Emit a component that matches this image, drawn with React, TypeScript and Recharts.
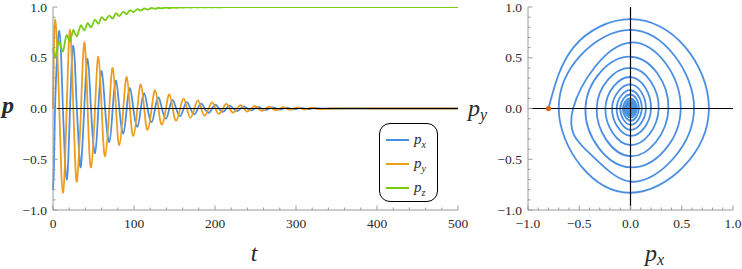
import { LineChart, Line, XAxis, YAxis, ReferenceLine, Legend } from 'recharts';

// samples: per cycle -> px min, py max, px max, py min
// (the two outer loops also have their four diagonal points)
const sampleT = [
  0, 1.2, 2.5, 5.1, 7.8, 10.0, 12.2, 14.6,
  16.9, 19.0, 21.0, 23.0, 25.1, 27.2, 29.4, 32.0,
  34.6, 38.6, 42.8, 46.9,
  51.9, 56.0, 60.1, 64.3,
  69.5, 73.7, 77.8, 81.9,
  86.8, 91.0, 95.0, 99.2,
  104.2, 108.4, 112.6, 116.8,
  121.8, 126.0, 130.2, 134.4,
  139.4, 143.6, 147.8, 152.0,
  157.0, 161.2, 165.4, 169.6,
  174.6, 178.8, 183.0, 187.2,
  192.2, 196.4, 200.6, 204.8,
  209.8, 214.0, 218.2, 222.4,
  227.4, 231.6, 235.8, 240.0,
  245.0, 249.2, 253.4, 257.6,
  262.6, 266.8, 271.0, 275.2,
  280.2, 284.4, 288.6, 292.8,
  297.8, 302.0, 306.2, 310.4,
  315.4, 319.6, 323.8, 328.0,
];
const pxS = [
  -0.8, -0.55, 0, 0.53, 0.765, 0.52, 0, -0.48,
  -0.7, -0.48, 0, 0.43, 0.62, 0.42, 0, -0.39,
  -0.56, 0, 0.49, 0,
  -0.44, 0, 0.37, 0,
  -0.33, 0, 0.275, 0,
  -0.245, 0, 0.2, 0,
  -0.18, 0, 0.15, 0,
  -0.135, 0, 0.11, 0,
  -0.1, 0, 0.083, 0,
  -0.075, 0, 0.063, 0,
  -0.057, 0, 0.048, 0,
  -0.043, 0, 0.037, 0,
  -0.033, 0, 0.028, 0,
  -0.025, 0, 0.021, 0,
  -0.019, 0, 0.016, 0,
  -0.014, 0, 0.012, 0,
  -0.011, 0, 0.009, 0,
  -0.008, 0, 0.007, 0,
  -0.006, 0, 0.005, 0,
];
const pyS = [
  0, 0.61, 0.88, 0.61, 0, -0.57, -0.83, -0.57,
  0, 0.53, 0.775, 0.52, 0, -0.49, -0.72, -0.45,
  0, 0.65, 0, -0.58,
  0, 0.51, 0, -0.47,
  0, 0.4, 0, -0.36,
  0, 0.31, 0, -0.27,
  0, 0.237, 0, -0.21,
  0, 0.18, 0, -0.16,
  0, 0.138, 0, -0.12,
  0, 0.1, 0, -0.09,
  0, 0.08, 0, -0.07,
  0, 0.06, 0, -0.053,
  0, 0.045, 0, -0.04,
  0, 0.034, 0, -0.03,
  0, 0.026, 0, -0.023,
  0, 0.019, 0, -0.017,
  0, 0.014, 0, -0.013,
  0, 0.011, 0, -0.01,
  0, 0.008, 0, -0.007,
];
const pzS = [
  0.59, 0.53, 0.5, 0.6, 0.66, 0.6, 0.56, 0.65,
  0.725, 0.69, 0.66, 0.72, 0.775, 0.74, 0.71, 0.77,
  0.82, 0.77, 0.84, 0.8,
  0.875, 0.835, 0.9, 0.87,
  0.915, 0.885, 0.94, 0.91,
  0.955, 0.93, 0.97, 0.95,
  0.98, 0.965, 0.985, 0.975,
  0.99, 0.982, 0.992, 0.987,
  0.994, 0.99, 0.995, 0.992,
  0.996, 0.994, 0.997, 0.995,
  0.998, 0.997, 0.998, 0.997,
  0.998, 0.997, 0.998, 0.997,
  0.998, 0.998, 0.998, 0.998,
  0.998, 0.998, 0.998, 0.998,
  0.998, 0.998, 0.998, 0.998,
  0.999, 0.999, 0.999, 0.999,
  0.999, 0.999, 0.999, 0.999,
  0.999, 0.999, 0.999, 0.999,
  0.999, 0.999, 0.999, 0.999,
];
const tailT = [345, 400, 500];
const tailPx = [0, 0, 0];
const tailPy = [0, 0, 0];
const tailPz = [0.999, 0.999, 0.999];

const tTicks = [0, 20, 40, 60, 80, 100, 120, 140, 160, 180, 200, 220, 240, 260, 280, 300, 320, 340, 360, 380, 400, 420, 440, 460, 480, 500];
const pTicks = [-1, -0.9, -0.8, -0.7, -0.6, -0.5, -0.4, -0.3, -0.2, -0.1, 0, 0.1, 0.2, 0.3, 0.4, 0.5, 0.6, 0.7, 0.8, 0.9, 1];

const rows = [
  ...sampleT.map((t, i) => ({ t, px: pxS[i], py: pyS[i], pz: pzS[i] })),
  ...tailT.map((t, i) => ({ t, px: tailPx[i], py: tailPy[i], pz: tailPz[i] })),
];

const BLUE = '#4a8fe2';
const ORANGE = '#ef9c1c';
const GREEN = '#78cc14';
const FRAME = '#9a9a9a';
const TXT = '#2a2a2a';
const SERIF = 'Liberation Serif, Times New Roman, DejaVu Serif, serif';

const isMajor = (v: number, step: number) => Math.abs(v / step - Math.round(v / step)) < 1e-6;
const fmtT = (v: number) => String(v);
const fmtP = (v: number) => v.toFixed(1).replace('-', '\u2212');

function tickFactory(side: 'bottom' | 'top' | 'left' | 'right', step: number, fmt?: (v: number) => string) {
  return (props: any) => {
    const { x, y, payload } = props;
    const v = payload.value;
    const major = isMajor(v, step);
    const len = major ? 4.5 : 2.5;
    let x2 = x;
    let y2 = y;
    if (side === 'bottom') y2 = y - len;
    if (side === 'top') y2 = y + len;
    if (side === 'left') x2 = x + len;
    if (side === 'right') x2 = x - len;
    let label = null;
    if (fmt && major) {
      label =
        side === 'bottom' ? (
          <text x={x} y={y + 17.5} textAnchor="middle" fontSize={13.5} style={{ fontFamily: SERIF }} fill={TXT}>
            {fmt(v)}
          </text>
        ) : (
          <text x={x - 6} y={y + 4.5} textAnchor="end" fontSize={13.5} style={{ fontFamily: SERIF }} fill={TXT}>
            {fmt(v)}
          </text>
        );
    }
    return (
      <g>
        <line x1={x} y1={y} x2={x2} y2={y2} stroke={FRAME} strokeWidth={1} />
        {label}
      </g>
    );
  };
}

function LegendBox({ payload }: any) {
  return (
    <div
      style={{
        width: 59,
        height: 79,
        boxSizing: 'border-box',
        border: '1.5px solid #000',
        borderRadius: 11,
        background: '#fff',
        paddingTop: 4,
      }}
    >
      {(payload || []).map((e: any) => (
        <div key={e.value} style={{ display: 'flex', alignItems: 'center', height: 24 }}>
          <svg width={34} height={6} style={{ display: 'block' }}>
            <line x1={6} y1={3} x2={29} y2={3} stroke={e.color} strokeWidth={2} />
          </svg>
          <span style={{ fontFamily: SERIF, fontStyle: 'italic', fontSize: 15, color: TXT }}>
            p<sub style={{ fontSize: 10 }}>{String(e.value).slice(1)}</sub>
          </span>
        </div>
      ))}
    </div>
  );
}

export default function App() {
  const startDot = (props: any) =>
    props.index === 0 ? <circle key="start" cx={props.cx} cy={props.cy} r={2.6} fill="#d9650f" /> : <g key={props.index} />;

  return (
    <div style={{ position: 'absolute', left: 0, top: 0, width: 742, height: 269, background: '#fff' }}>
      <div style={{ position: 'absolute', left: 0, top: 0 }}>
        <LineChart width={470} height={269} data={rows} margin={{ top: 7, right: 12, bottom: 0, left: 0 }}>
          <XAxis
            type="number"
            dataKey="t"
            domain={[0, 500]}
            ticks={tTicks}
            interval={0}
            height={59}
            tickSize={0}
            tickMargin={0}
            tickLine={false}
            axisLine={{ stroke: FRAME }}
            tick={tickFactory('bottom', 100, fmtT)}
          />
          <XAxis
            xAxisId="top"
            orientation="top"
            type="number"
            domain={[0, 500]}
            ticks={tTicks}
            interval={0}
            height={0}
            tickSize={0}
            tickMargin={0}
            tickLine={false}
            axisLine={{ stroke: FRAME }}
            tick={tickFactory('top', 100)}
          />
          <YAxis
            type="number"
            domain={[-1, 1]}
            allowDataOverflow
            ticks={pTicks}
            interval={0}
            width={53}
            tickSize={0}
            tickMargin={0}
            tickLine={false}
            axisLine={{ stroke: FRAME }}
            tick={tickFactory('left', 0.5, fmtP)}
          />
          <YAxis
            yAxisId="right"
            orientation="right"
            type="number"
            domain={[-1, 1]}
            ticks={pTicks}
            interval={0}
            width={0}
            tickSize={0}
            tickMargin={0}
            tickLine={false}
            axisLine={{ stroke: FRAME }}
            tick={tickFactory('right', 0.5)}
          />
          <Line name="px" dataKey="px" type="natural" stroke={BLUE} strokeWidth={1.8} dot={false} isAnimationActive={false} />
          <Line name="py" dataKey="py" type="natural" stroke={ORANGE} strokeWidth={1.8} dot={false} isAnimationActive={false} />
          <Line name="pz" dataKey="pz" type="monotone" stroke={GREEN} strokeWidth={1.8} dot={false} isAnimationActive={false} />
          <ReferenceLine y={0} stroke="#000" strokeWidth={1.2} />
          <Legend
            layout="horizontal"
            verticalAlign="middle"
            align="center"
            content={<LegendBox />}
            wrapperStyle={{ position: 'absolute', left: 379, top: 123, width: 59, height: 79 }}
          />
        </LineChart>
      </div>
      <div style={{ position: 'absolute', left: 470, top: 0 }}>
        <LineChart width={272} height={269} data={rows} margin={{ top: 7, right: 9, bottom: 0, left: 0 }}>
          <XAxis
            type="number"
            dataKey="px"
            domain={[-1, 1]}
            allowDataOverflow
            ticks={pTicks}
            interval={0}
            height={59}
            tickSize={0}
            tickMargin={0}
            tickLine={false}
            axisLine={{ stroke: FRAME }}
            tick={tickFactory('bottom', 0.5, fmtP)}
          />
          <XAxis
            xAxisId="top"
            orientation="top"
            type="number"
            domain={[-1, 1]}
            ticks={pTicks}
            interval={0}
            height={0}
            tickSize={0}
            tickMargin={0}
            tickLine={false}
            axisLine={{ stroke: FRAME }}
            tick={tickFactory('top', 0.5)}
          />
          <YAxis
            type="number"
            domain={[-1, 1]}
            allowDataOverflow
            ticks={pTicks}
            interval={0}
            width={58}
            tickSize={0}
            tickMargin={0}
            tickLine={false}
            axisLine={{ stroke: FRAME }}
            tick={tickFactory('left', 0.5, fmtP)}
          />
          <YAxis
            yAxisId="right"
            orientation="right"
            type="number"
            domain={[-1, 1]}
            ticks={pTicks}
            interval={0}
            width={0}
            tickSize={0}
            tickMargin={0}
            tickLine={false}
            axisLine={{ stroke: FRAME }}
            tick={tickFactory('right', 0.5)}
          />
          <Line dataKey="py" type="natural" stroke={BLUE} strokeWidth={1.8} dot={startDot} isAnimationActive={false} />
          <ReferenceLine x={0} stroke="#000" strokeWidth={1.2} />
          <ReferenceLine y={0} stroke="#000" strokeWidth={1.2} />
        </LineChart>
      </div>
      <svg width={742} height={269} style={{ position: 'absolute', left: 0, top: 0, pointerEvents: 'none' }}>
        <text x={2} y={113} style={{ fontFamily: SERIF }} fontStyle="italic" fontWeight="bold" fontSize={24} fill={TXT}>
          p
        </text>
        <text x={254} y={261} textAnchor="middle" style={{ fontFamily: SERIF }} fontStyle="italic" fontSize={24} fill={TXT}>
          t
        </text>
        <text x={468} y={116} style={{ fontFamily: SERIF }} fontStyle="italic" fontSize={24} fill={TXT}>
          p
          <tspan fontSize={16} dy={4}>
            y
          </tspan>
        </text>
        <text x={645} y={261} style={{ fontFamily: SERIF }} fontStyle="italic" fontSize={24} fill={TXT}>
          p
          <tspan fontSize={16} dy={4}>
            x
          </tspan>
        </text>
      </svg>
    </div>
  );
}
